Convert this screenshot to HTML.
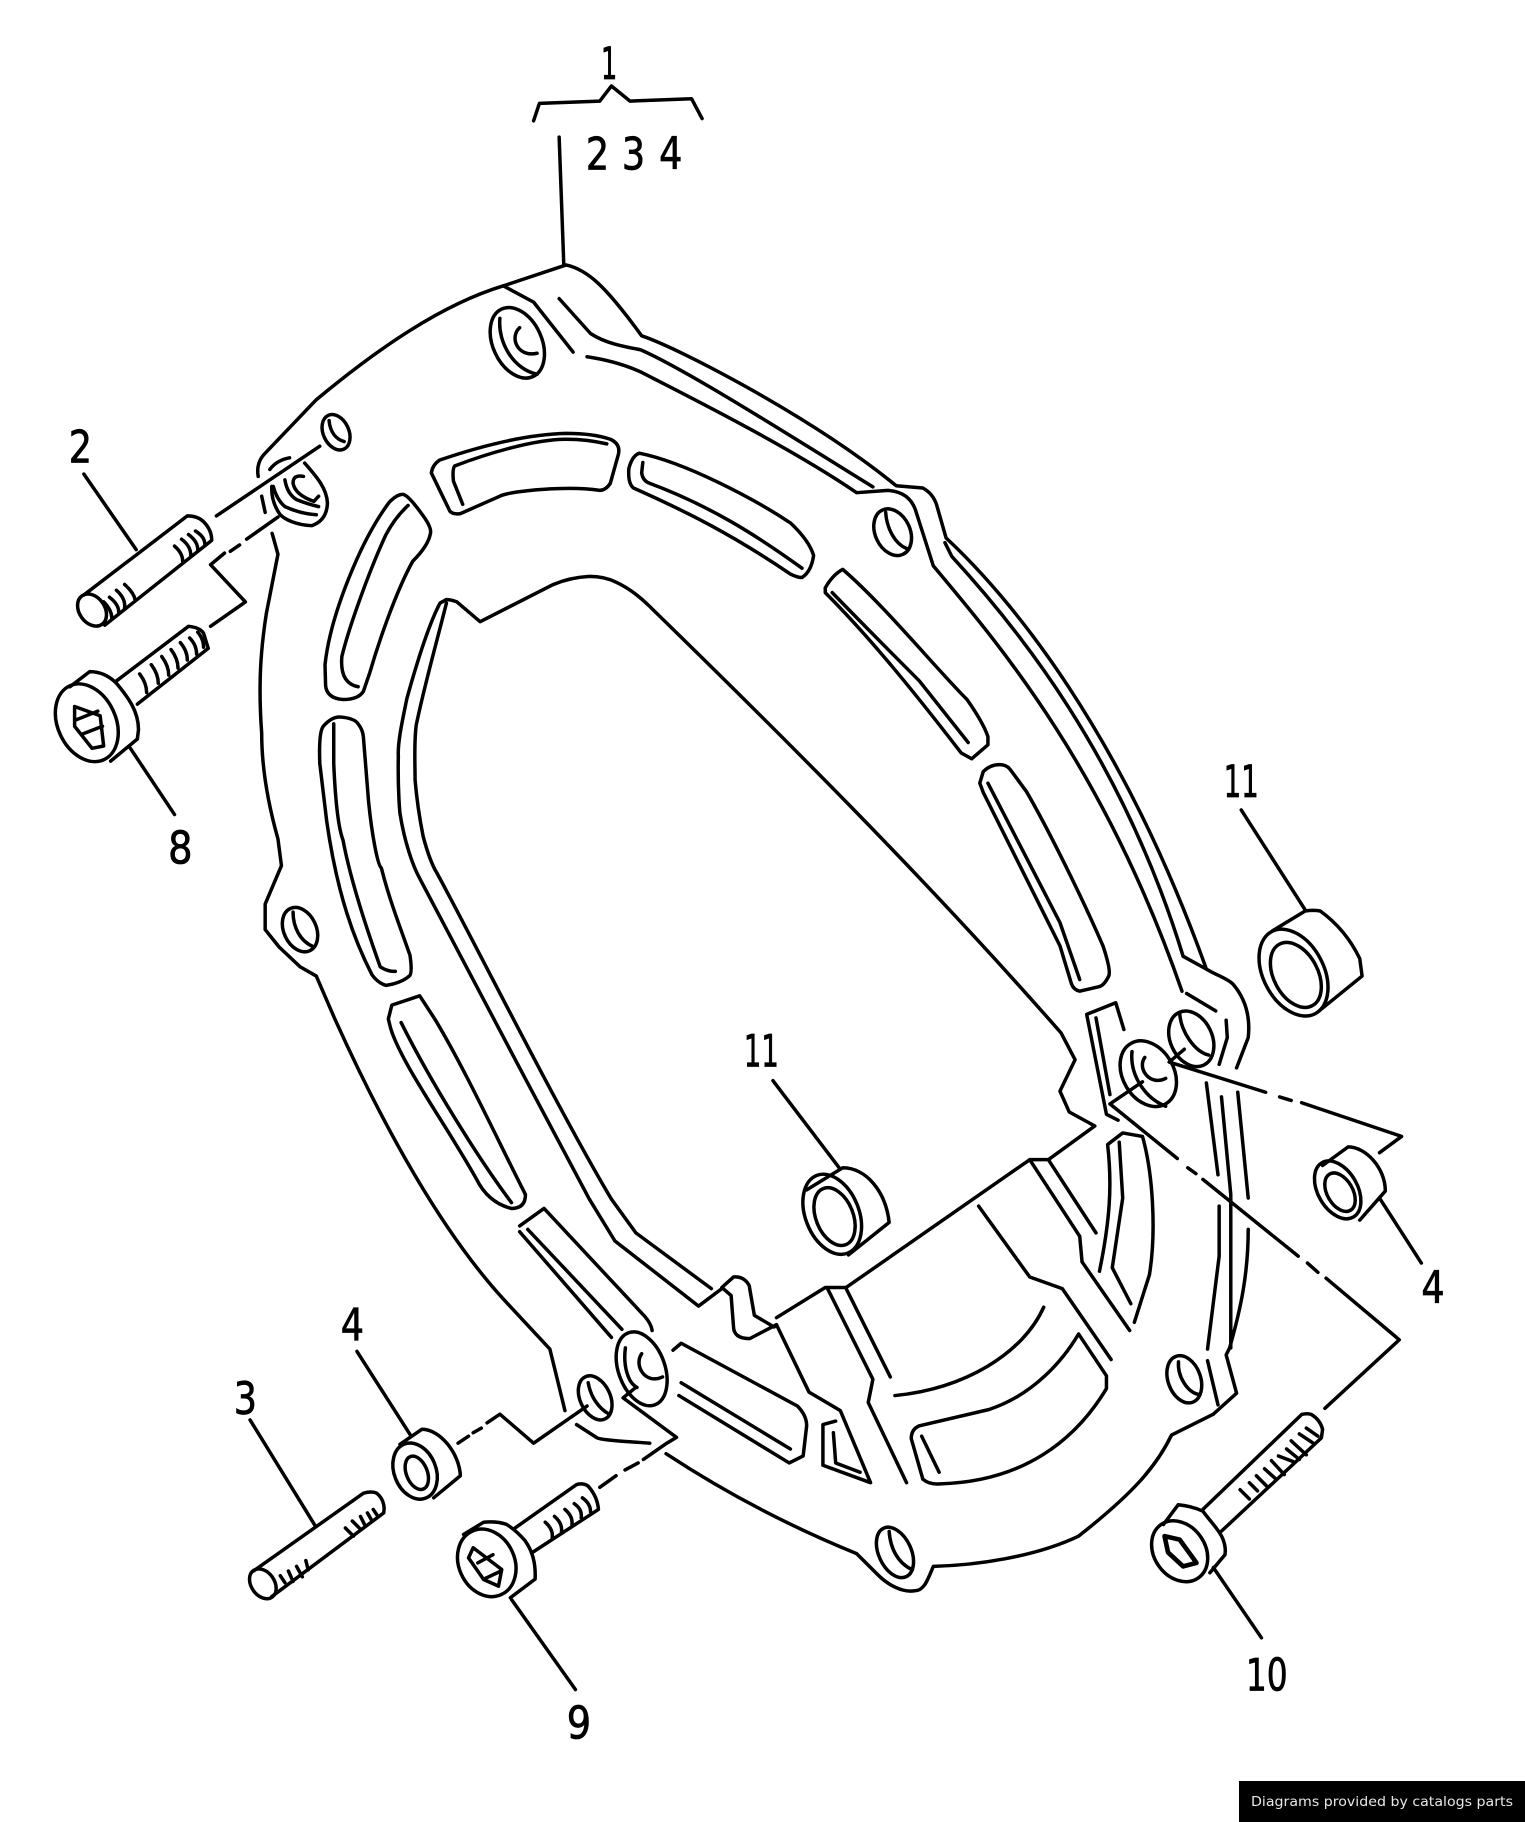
<!DOCTYPE html>
<html><head><meta charset="utf-8"><style>
html,body{margin:0;padding:0;background:#fff}
svg{display:block;position:absolute;left:0;top:0}
#f{position:absolute;left:1239px;top:1781px;width:286px;height:41px;background:#000}
</style></head><body>
<svg width="1525" height="1822" viewBox="0 0 1312 1568" xmlns="http://www.w3.org/2000/svg">
<rect width="1312" height="1568" fill="#fff"/>
<g fill="none" stroke="#000" stroke-width="3" stroke-linecap="round" stroke-linejoin="round">
<!-- bracket and main leader -->
<path d="M459,104L464,89L516,87L526,74L542,87L595,85L604,102"/>
<path d="M481,118L485,228"/>
<!-- outer contour -->
<path d="M222,410Q220,398 228,390L272,344C325,300 380,262 433,246L487,228C505,232 520,245 552,289C585,300 700,360 771,418L794,420Q803,425 806,435L814,463C870,515 965,630 1038,834C1048,840 1056,842 1061,847C1072,860 1076,875 1074,893L1064,919"/>
<path d="M225,427L228,441"/>
<path d="M1044,1217L1064,1199L1055,1166L1058,1160C1068,1125 1074,1095 1074,1058"/>
<path d="M1044,1217L1008,1235C995,1262 975,1285 928,1322C890,1340 840,1347 803,1348C798,1360 795,1369 787,1369C775,1371 762,1362 756,1356L737,1337C700,1322 640,1295 573,1251"/>
<path d="M559,1242C530,1240 515,1239 513,1237L496,1226"/>
<path d="M486,1214L473,1161L433,1118C380,1060 330,970 288,877L272,840L258,832L240,815L228,800V778L242,745L239,722C230,690 225,660 225,631C222,590 224,560 229,528L239,477L234,459"/>
<!-- top lug and rim -->
<path d="M433,246L459,260L493,303"/>
<path d="M481,257L508,287C520,295 535,298 551,301C590,318 680,375 751,419"/>
<path d="M505,307C525,310 540,315 551,320C590,340 680,385 737,424L764,422C778,423 785,430 788,440L803,487C860,555 950,660 1017,853"/>
<path d="M813,467L819,479C875,540 965,650 1018,823L1038,834"/>
<path d="M1021,855L1046,870"/>
<path d="M1055,878L1056,893L1049,916"/>
<!-- upper slots -->
<path d="M371,407Q372,400 378,396C410,385 450,374 487,373Q510,373 525,378Q534,382 532,391L525,416Q521,422 516,422C490,418 440,422 430,427L396,442Q390,443 387,440Z"/>
<path d="M398,434L390,414Q389,404 391,401C420,390 460,378 487,378Q505,378 522,382"/>
<path d="M541,403Q544,392 550,390C590,398 650,430 680,450Q696,465 700,478Q698,492 690,497Q686,497 680,494C630,460 590,440 545,420Q540,416 541,403Z"/>
<path d="M553,398L552,407Q553,414 559,416C610,435 650,460 690,489"/>
<path d="M710,506Q716,495 725,490C760,520 805,575 832,602Q846,622 850,634V641L836,653L827,648C790,600 750,550 710,510Z"/>
<path d="M716,510C750,545 770,565 791,586L833,639"/>
<path d="M843,674L846,664Q852,658 860,658Q866,658 869,662L883,681C900,710 930,770 949,814Q956,835 954,840Q950,848 946,849L929,853Q924,852 922,847L912,814C890,770 865,720 846,682Z"/>
<path d="M850,674L912,794L929,843"/>
<path d="M279.5,572C284,530 310,465 335,432Q342,425 347,425.5Q352,427 364,444Q372,455 370,460Q368,470 355,483C340,510 325,555 318,579L312.5,595Q308,602 295,602Q281,601 280,590Z"/>
<path d="M351,435Q340,445 332,460C318,490 300,540 294,565Q292,588 308,591"/>
<path d="M275,657Q274,630 278,625Q285,617 292,617Q305,618 308,623Q312,628 312.5,634L317,690C320,720 325,745 328,747C335,775 345,800 352.6,822Q355,838 352,840Q345,846 332,848Q325,846 320,839C305,810 290,770 281,707Z"/>
<path d="M287,623V657C288,680 290,710 295,723C300,750 312,790 327,832Q333,836 340,836"/>
<path d="M334,877L337,865L361,857L374,877C400,920 430,985 452,1028Q452,1040 440,1040Q420,1035 410,1015C385,970 345,915 336,885Z"/>
<path d="M345,880C370,930 410,995 440,1035"/>
<path d="M447,1055L468,1040L552,1130Q560,1138 561,1145"/>
<path d="M454,1058L535,1144M447,1060L526,1151"/>
<!-- inner window -->
<path d="M384,516Q388,516 393,518L413,535L476,503Q490,497 507,496Q520,496 530,501Q545,508 559,522C680,640 800,760 913,889L925,912L912,939L920,957L942,969L902,998H886L728,1108H710L668,1134"/>
<path d="M384,516L378.5,519C370,535 360,565 350,601C345,625 342,640 342.6,651C342,680 344,700 344,700C348,725 355,745 361,756C385,800 460,945 507,1032L529,1068L601,1124L621,1109"/>
<path d="M384,519C375,555 365,590 358,624C356,640 357,655 357,671C359,695 362,710 364,720C368,735 372,745 375.6,751C400,795 480,955 526,1032L547,1061L612,1109"/>
<path d="M621,1108L631,1099C640,1098 645,1105 645,1109L649,1132L666,1142L668,1140L645,1152C635,1152 631,1148 631,1141L629,1115Z"/>
<!-- lower housing -->
<path d="M668,1140L696,1198L723,1214L749,1276L708,1261V1226L719,1223"/>
<path d="M717,1233L719,1259L740,1267"/>
<path d="M712,1109L751,1187L747,1207L780,1276M728,1109L766,1185"/>
<path d="M770,1201C830,1195 880,1165 898,1125"/>
<path d="M928,1148C915,1170 890,1200 851,1213L791,1227Q784,1230 784,1238L794,1273Q800,1278 809,1277C880,1275 925,1240 952,1195V1184Z"/>
<path d="M793,1236L808,1267"/>
<path d="M842,1038L886,1099L914,1109L956,1170"/>
<path d="M886,998L929,1064L931,1086L972,1145M902,998L943,1061"/>
<path d="M946,1094C955,1050 957,1020 953,985L966,975L983,978C992,1010 995,1060 989,1097L976,1138"/>
<path d="M963,983L966,1031L957,1091L973,1122"/>
<path d="M967,886L960,863L935,873L952,959L962,964M943,876L955,942"/>
<path d="M1038,932L1048,1011M1051,944L1059,1028V1160M1065,940L1074,1031M1049,1038V1081L1039,1161M1039,1171L1048,1209"/>
<path d="M579,1162L586,1156L686,1210Q694,1218 694,1227L691,1253L679,1259L584,1201M586,1190L680,1247"/>
<!-- holes -->
<ellipse cx="445" cy="295" rx="21" ry="32" transform="rotate(-25 445 295)"/>
<path d="M430,274C428,295 442,318 462,322M447,282C438,290 445,308 462,304"/>
<ellipse cx="768" cy="458" rx="15" ry="21" transform="rotate(-25 768 458)"/>
<path d="M762,441C763,455 770,468 780,472"/>
<ellipse cx="258" cy="800" rx="14" ry="20" transform="rotate(-25 258 800)"/>
<path d="M252,785C252,798 258,810 270,815"/>
<ellipse cx="1025" cy="894" rx="18" ry="25" transform="rotate(-25 1025 894)"/>
<path d="M1015,872C1016,888 1028,905 1040,908"/>
<ellipse cx="1019" cy="1187" rx="14" ry="21" transform="rotate(-20 1019 1187)"/>
<path d="M1014,1172C1013,1185 1022,1198 1031,1200"/>
<ellipse cx="770" cy="1336" rx="14" ry="23" transform="rotate(-25 770 1336)"/>
<path d="M765,1318C766,1332 772,1345 785,1351"/>
<ellipse cx="512" cy="1203" rx="13" ry="20" transform="rotate(-25 512 1203)"/>
<path d="M506,1190C508,1202 515,1212 524,1217"/>
<ellipse cx="289" cy="372" rx="11" ry="16" transform="rotate(-25 289 372)"/>
<path d="M283,362C284,372 289,378 296,380"/>
<!-- washers in housing -->
<path d="M232,404Q238,396 249,394M262,398.5C272,410 281,420 281.6,433Q281,448 268,452.4C255,452 245,447 241,443Q233,432 233.7,418.6"/>
<path d="M235,418.6Q238,430 245,436Q258,442 272,443M245,413Q247,425 255,430Q265,434 274,436M261,410Q252,408 252,416Q254,426 270,431.5L274,427"/>
<ellipse cx="988" cy="924" rx="22" ry="30" transform="rotate(-30 988 924)"/>
<path d="M974,905C972,925 985,945 1003,952M985,910C978,920 990,935 1003,928"/>
<ellipse cx="552" cy="1178" rx="20" ry="33" transform="rotate(-20 552 1178)"/>
<path d="M538,1160C536,1175 540,1190 548,1194M552,1165C545,1175 555,1192 570,1185"/>
<!-- connectors -->
<path d="M1006,914L1019,903M1006,914L1089,940M1101,944L1111,947M1120,949L1206,978L1187,992"/>
<path d="M955,950L983,931M955,950L1013,997M1022,1005L1029,1010M1035,1015L1117,1081M1125,1087L1134,1095M1141,1100L1204,1153L1140,1212"/>
<path d="M582,1237L536,1203L547,1194M582,1237L573.6,1242L553.5,1256M549,1259L537.7,1265M530,1270L516,1280"/>
<path d="M394,1242L403,1236M407,1233L414,1229M419,1224.5L430,1217L459,1242L505,1210"/>
<path d="M186,444L275,384M239,445L212,464M206,469L198,474.5M193,476L181,486L211,518L181,539"/>
<!-- bolt 2 -->
<ellipse cx="79" cy="525" rx="11" ry="15" transform="rotate(-35 79 525)"/>
<path d="M72,512L161,444Q170,444 175,449Q182,456 182,465L90,538"/>
<path d="M89,518Q96,525 96,532M94,514Q102,520 102,527M100,508Q108,515 107,523M107,503Q115,510 116,516M150,470Q157,476 157,483M156,464Q164,470 164,478M162,460Q170,466 170,473M168,457Q176,462 176,468"/>
<path d="M72,408L117,473"/>
<!-- bolt 8 -->
<ellipse cx="74.5" cy="622" rx="25" ry="35" transform="rotate(-25 74.5 622)"/>
<path d="M60,591L77,578Q90,578 100,588C110,600 119,612 119,628L118,636L95,655"/>
<path d="M64,608L86,616L89,642L79,644L64,625ZM64,620L84,612M70,632L88,625"/>
<path d="M100,586L162,539Q172,540 175,545L179,558L118,606"/>
<path d="M120,580Q126,588 126,596M130,572Q136,580 136,588M139,565Q145,573 145,581M147,559Q153,567 153,575M155,553Q161,560 161,568M163,549Q169,555 169,563M170,544Q175,550 175,557"/>
<path d="M112,644L150,701"/>
<!-- bolt 3 -->
<ellipse cx="226" cy="1363" rx="10" ry="14" transform="rotate(-35 226 1363)"/>
<path d="M218,1352L312.6,1285Q320,1283 324,1285Q330,1290 330.4,1298L330,1302L233.7,1374"/>
<path d="M241,1356L245,1362M248,1352L252,1361M255,1348L260,1357M263,1343L265,1351M297,1315L304,1322M303,1309L310,1316M310,1305L314,1313M316,1302L320,1309M321,1299L325,1305"/>
<path d="M215,1222L271,1313"/>
<!-- bolt 9 -->
<ellipse cx="418.7" cy="1345" rx="24" ry="30" transform="rotate(-25 418.7 1345)"/>
<path d="M398.7,1320.6L416,1310Q428,1309 436,1312Q445,1318 451.7,1326C458,1335 461,1345 460.3,1359L439,1375"/>
<path d="M407,1332L431.6,1350.7L428.8,1365L416,1359.3L403,1340.7ZM416,1359L431,1352M411,1345L424,1338"/>
<path d="M443,1315L496,1277.6Q502,1276 506,1279Q514,1288 514.8,1299L457.4,1336.4"/>
<path d="M469,1310Q476,1316 475,1323M477,1305Q484,1311 483,1318M486,1299Q493,1305 492,1312M494,1294Q501,1299 500,1306M501,1289Q508,1294 508,1301"/>
<path d="M440,1376.5L495,1454"/>
<!-- bolt 10 -->
<ellipse cx="1015" cy="1335" rx="22" ry="28" transform="rotate(-35 1015 1335)"/>
<path d="M1001,1312L1013.7,1295Q1025,1296 1035,1300.5C1042,1310 1050,1318 1052.4,1325Q1055,1332 1054,1338L1041,1353.5"/>
<path d="M1002,1322L1015,1325L1029.5,1345L1018,1348L1005,1336Z" stroke-width="4"/>
<path d="M1035,1299L1120,1217.3Q1125,1216 1128.4,1217.3Q1136,1222 1138,1230L1137,1237.4L1051,1317.7"/>
<path d="M1067,1282L1075,1290M1075,1276L1082,1283M1081,1270L1091,1280M1088,1264L1098,1273M1094,1257L1105,1269M1100,1253L1113,1258M1107,1247L1118,1256M1111,1240L1124,1252M1118,1234L1130,1242M1124,1229L1134,1236"/>
<path d="M1044,1349L1085.4,1409.5"/>
<!-- spacers -->
<path d="M1095,801L1123,784Q1130,783 1136,784Q1158,800 1170,825L1172,840L1135,870"/>
<ellipse cx="1113" cy="837" rx="26" ry="40" transform="rotate(-28 1113 837)"/>
<ellipse cx="1115" cy="839" rx="19" ry="30" transform="rotate(-28 1115 839)"/>
<path d="M1068,697L1123,783"/>
<path d="M694,1024L725,1005C745,1005 762,1025 765,1052L730,1080"/>
<ellipse cx="716" cy="1045" rx="23" ry="36" transform="rotate(-22 716 1045)"/>
<ellipse cx="718" cy="1047" rx="16" ry="26" transform="rotate(-22 718 1047)"/>
<path d="M665,930L722,1005"/>
<path d="M1138,1003L1160,987C1175,987 1192,1005 1192,1025L1170,1050"/>
<ellipse cx="1151" cy="1024" rx="17" ry="27" transform="rotate(-30 1151 1024)"/>
<ellipse cx="1153" cy="1026" rx="11" ry="18" transform="rotate(-30 1153 1026)"/>
<path d="M1187,1031L1223,1087"/>
<path d="M344,1243L363,1230C378,1230 395,1250 396,1270L373,1289"/>
<ellipse cx="357" cy="1266" rx="18" ry="25" transform="rotate(-22 357 1266)"/>
<ellipse cx="358.5" cy="1267.5" rx="9" ry="15" transform="rotate(-22 358.5 1267.5)"/>
<path d="M307,1163L353,1235"/>
</g>
<g font-family="'DejaVu Sans','Liberation Sans',sans-serif" font-size="38" fill="#000" stroke="#000" stroke-width="0.7" text-anchor="middle">
<text x="524" y="68" textLength="14" lengthAdjust="spacingAndGlyphs">1</text>
<text x="514" y="146" textLength="20" lengthAdjust="spacingAndGlyphs">2</text>
<text x="545" y="146" textLength="20" lengthAdjust="spacingAndGlyphs">3</text>
<text x="577" y="145" textLength="20" lengthAdjust="spacingAndGlyphs">4</text>
<text x="69" y="398" textLength="20" lengthAdjust="spacingAndGlyphs">2</text>
<text x="155" y="743" textLength="21" lengthAdjust="spacingAndGlyphs">8</text>
<text x="1068" y="686" textLength="30" lengthAdjust="spacingAndGlyphs">11</text>
<text x="655" y="918" textLength="30" lengthAdjust="spacingAndGlyphs">11</text>
<text x="1233" y="1121" textLength="20" lengthAdjust="spacingAndGlyphs">4</text>
<text x="303" y="1153" textLength="20" lengthAdjust="spacingAndGlyphs">4</text>
<text x="211" y="1217" textLength="20" lengthAdjust="spacingAndGlyphs">3</text>
<text x="498" y="1496" textLength="21" lengthAdjust="spacingAndGlyphs">9</text>
<text x="1090" y="1455" textLength="36" lengthAdjust="spacingAndGlyphs">10</text>
</g>
</svg>
<div id="f"><svg width="286" height="41" style="position:static"><text x="12" y="25" font-family="'DejaVu Sans',sans-serif" font-size="13.5" fill="#e8e8e8" textLength="262" lengthAdjust="spacingAndGlyphs">Diagrams provided by catalogs parts</text></svg></div>
</body></html>
